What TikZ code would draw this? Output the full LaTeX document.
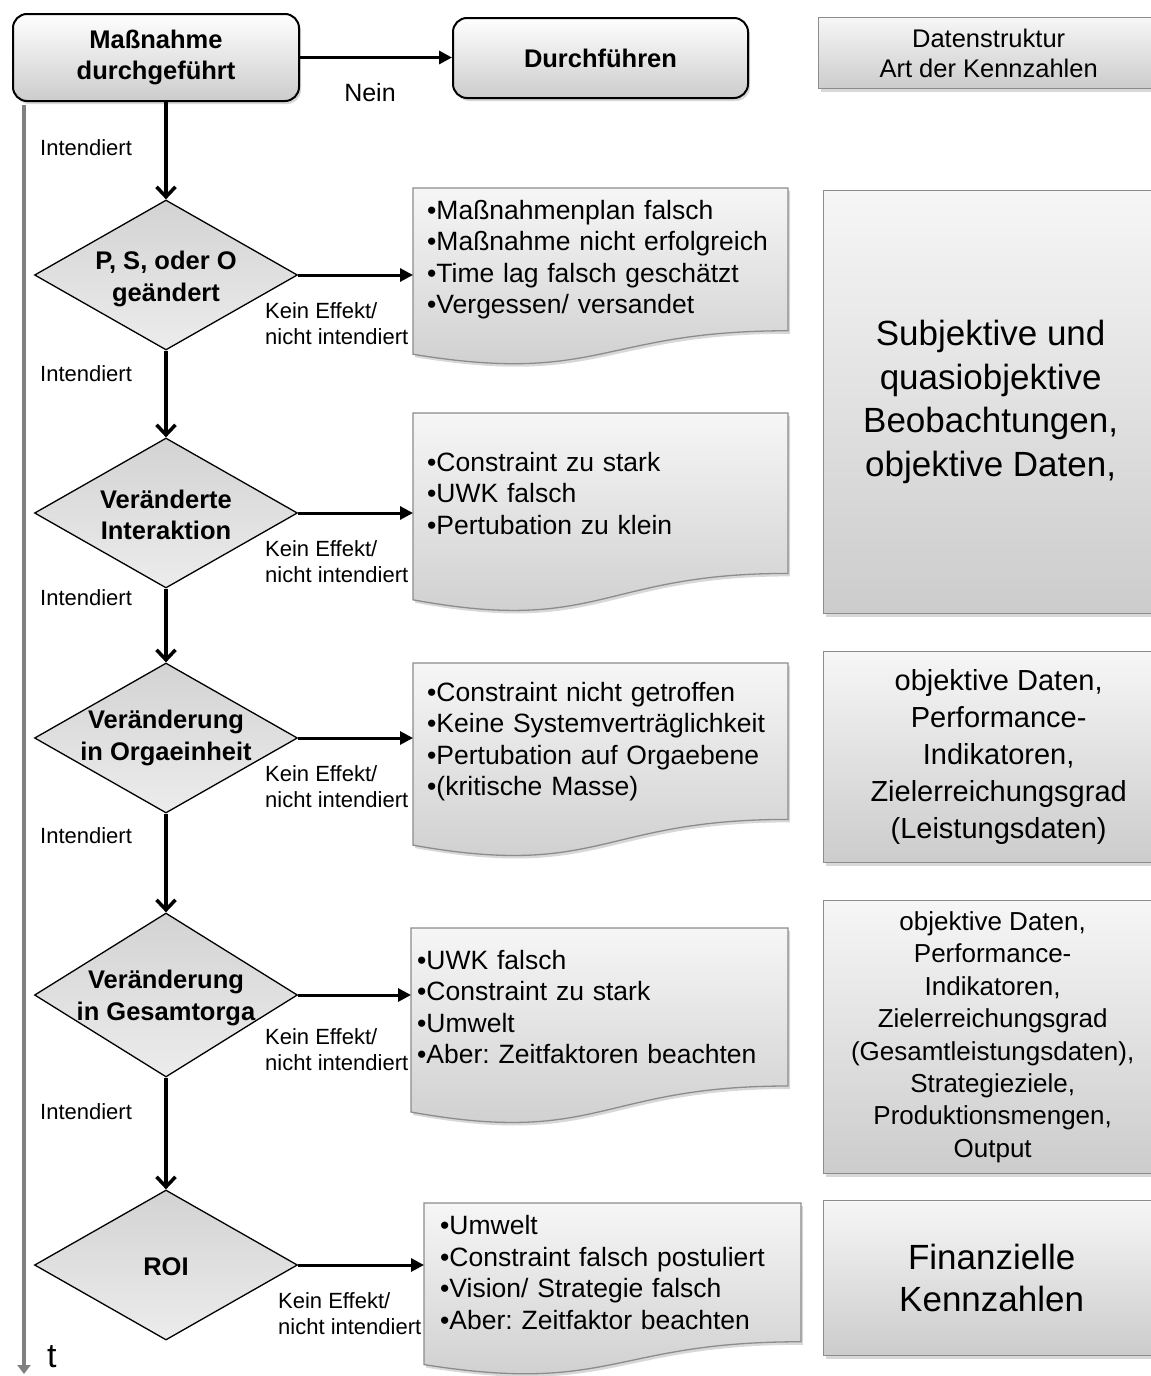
\documentclass[tikz,border=0pt]{standalone}
\usepackage{fontspec}
\setmainfont{Liberation Sans}
\usetikzlibrary{arrows.meta,shapes.geometric,shadows,calc}
\frenchspacing

\definecolor{bordergray}{HTML}{8C8C8C}
\definecolor{boxtop}{HTML}{F6F6F6}
\definecolor{boxbottom}{HTML}{CCCCCC}
\definecolor{diatop}{HTML}{D3D3D3}
\definecolor{diabottom}{HTML}{ECECEC}
\definecolor{timegray}{HTML}{808080}

% document shape (wavy bottom edge) with a named text node on top
% #1 name, #2 x, #3 y, #4 width, #5 height, #6 inner x sep, #7 text width
\newcommand\docbox[7]{%
  \draw[docstyle] (#2,#3) -- ({#2+#4},#3) -- ({#2+#4},{#3+0.802*#5})
    .. controls ({#2+0.5*#4},{#3+0.802*#5}) and ({#2+0.5*#4},{#3+1.107*#5}) .. (#2,{#3+0.934*#5}) -- cycle;
  \node[doctext, inner xsep=#6pt, text width=#7pt, minimum height={0.802*#5}, anchor=north west] (#1) at (#2,#3)}

\begin{document}
\begin{tikzpicture}[x=1pt,y=-1pt,
  startbox/.style={draw=black, line width=2pt, rounded corners=14pt,
    top color=white, bottom color=boxbottom,
    drop shadow={opacity=0.3, shadow xshift=2pt, shadow yshift=-3pt},
    font=\fontsize{25.5}{31.5}\selectfont\bfseries, align=center, inner sep=0pt, anchor=north west},
  dia/.style={diamond, draw=black, line width=1.3pt, top color=diatop, bottom color=diabottom,
    minimum width=263pt, minimum height=150pt, inner sep=0pt},
  diatext/.style={font=\fontsize{25.5}{31.5}\selectfont\bfseries, align=center, inner sep=0pt},
  docstyle/.style={draw=bordergray, line width=1.3pt, top color=boxtop, bottom color=boxbottom,
    drop shadow={opacity=0.3, shadow xshift=2pt, shadow yshift=-3pt}},
  doctext/.style={inner ysep=0pt, align=left, font=\fontsize{26.5}{31.5}\selectfont},
  rbox/.style={draw=bordergray, line width=1.3pt, top color=boxtop, bottom color=boxbottom,
    drop shadow={opacity=0.3, shadow xshift=2pt, shadow yshift=-3pt},
    align=center, inner sep=0pt, anchor=north west},
  lbl/.style={font=\fontsize{22}{26}\selectfont, align=left, inner sep=0pt, anchor=west},
  flow/.style={line width=3.5pt, -{Straight Barb[length=10pt, width=19pt]}},
  side/.style={line width=3pt, -{Triangle[length=13pt, width=13pt]}},
  timeline/.style={draw=timegray, line width=4pt, -{Triangle[length=9pt, width=13pt]}}
]
\useasboundingbox (0,0) rectangle (1151,1376);
\fill[white] (0,0) rectangle (1151,1376);

% time axis
\coordinate (tl0) at (24,105);
\coordinate (tl1) at (24,1374);
\draw[timeline] (tl0) -- (tl1);
\node[anchor=base west, inner sep=0pt, font=\fontsize{34}{40}\selectfont] (tlabel) at (47,1367) {t};

% start and action boxes
\node[startbox, minimum width=286pt, minimum height=87pt] (start) at (12,13) {Maßnahme\\durchgeführt};
\node[startbox, minimum width=295pt, minimum height=80pt] (exec) at (452,17) {Durchführen};
\draw[side] (start.east) -- (start.east -| exec.west);
\node[font=\fontsize{25}{30}\selectfont, inner sep=0pt] (nein) at (370,93) {Nein};

% decisions
\node[dia] (d1) at (166,275) {};
\node[diatext] (d1t) at (166,279) {P, S, oder O\\geändert};
\node[dia] (d2) at (166,513) {};
\node[diatext] (d2t) at (166,515) {Veränderte\\Interaktion};
\node[dia] (d3) at (166,738) {};
\node[diatext] (d3t) at (166,738) {Veränderung\\in Orgaeinheit};
\node[dia, minimum height=164pt] (d4) at (166,995) {};
\node[diatext] (d4t) at (166,998) {Veränderung\\in Gesamtorga};
\node[dia] (d5) at (166,1265) {};
\node[diatext] (d5t) at (166,1267) {ROI};

% main flow
\draw[flow] (start.south -| d1.north) -- (d1.north);
\draw[flow] (d1.south) -- (d2.north);
\draw[flow] (d2.south) -- (d3.north);
\draw[flow] (d3.south) -- (d4.north);
\draw[flow] (d4.south) -- (d5.north);

\node[lbl] (i1) at (40,148) {Intendiert};
\node[lbl] (i2) at (40,374) {Intendiert};
\node[lbl] (i3) at (40,598) {Intendiert};
\node[lbl] (i4) at (40,836) {Intendiert};
\node[lbl] (i5) at (40,1112) {Intendiert};

% causes when no effect
\docbox{e1}{413}{188}{375}{178}{14}{347}{•Maßnahmenplan falsch\\•Maßnahme nicht erfolgreich\\•Time lag falsch geschätzt\\•Vergessen/ versandet};
\docbox{e2}{413}{413}{375}{200}{14}{347}{•Constraint zu stark\\•UWK falsch\\•Pertubation zu klein};
\docbox{e3}{413}{663}{375}{195}{14}{347}{•Constraint nicht getroffen\\•Keine Systemverträglichkeit\\•Pertubation auf Orgaebene\\•(kritische Masse)};
\docbox{e4}{411}{928}{377}{197}{6}{365}{•UWK falsch\\•Constraint zu stark\\•Umwelt\\•Aber: Zeitfaktoren beachten};
\docbox{e5}{424}{1203}{377}{173}{16}{345}{•Umwelt\\•Constraint falsch postuliert\\•Vision/ Strategie falsch\\•Aber: Zeitfaktor beachten};

\draw[side] (d1.east) -- (d1.east -| e1.west);
\draw[side] (d2.east) -- (d2.east -| e2.west);
\draw[side] (d3.east) -- (d3.east -| e3.west);
\draw[side] (d4.east) -- (d4.east -| e4.west);
\draw[side] (d5.east) -- (d5.east -| e5.west);

\node[lbl] (k1) at (265,324) {Kein Effekt/\\nicht intendiert};
\node[lbl] (k2) at (265,562) {Kein Effekt/\\nicht intendiert};
\node[lbl] (k3) at (265,787) {Kein Effekt/\\nicht intendiert};
\node[lbl] (k4) at (265,1050) {Kein Effekt/\\nicht intendiert};
\node[lbl] (k5) at (278,1314) {Kein Effekt/\\nicht intendiert};

% data structure column
\node[rbox, minimum width=340pt, minimum height=71pt, font=\fontsize{25.5}{30}\selectfont] (r1) at (818,17) {Datenstruktur\\Art der Kennzahlen};
\node[rbox, minimum width=334pt, minimum height=423pt, font=\fontsize{35}{43.5}\selectfont] (r2) at (823,190) {Subjektive und\\quasiobjektive\\Beobachtungen,\\objektive Daten,};
\node[rbox, minimum width=350pt, minimum height=211pt, font=\fontsize{29}{37}\selectfont] (r3) at (823,651) {objektive Daten,\\Performance-\\Indikatoren,\\Zielerreichungsgrad\\(Leistungsdaten)};
\node[rbox, minimum width=338pt, minimum height=273pt, font=\fontsize{26}{32.4}\selectfont] (r4) at (823,900) {objektive Daten,\\Performance-\\Indikatoren,\\Zielerreichungsgrad\\(Gesamtleistungsdaten),\\Strategieziele,\\Produktionsmengen,\\Output};
\node[rbox, minimum width=336pt, minimum height=155pt, font=\fontsize{35}{42}\selectfont] (r5) at (823,1200) {Finanzielle\\Kennzahlen};
\end{tikzpicture}
\end{document}
